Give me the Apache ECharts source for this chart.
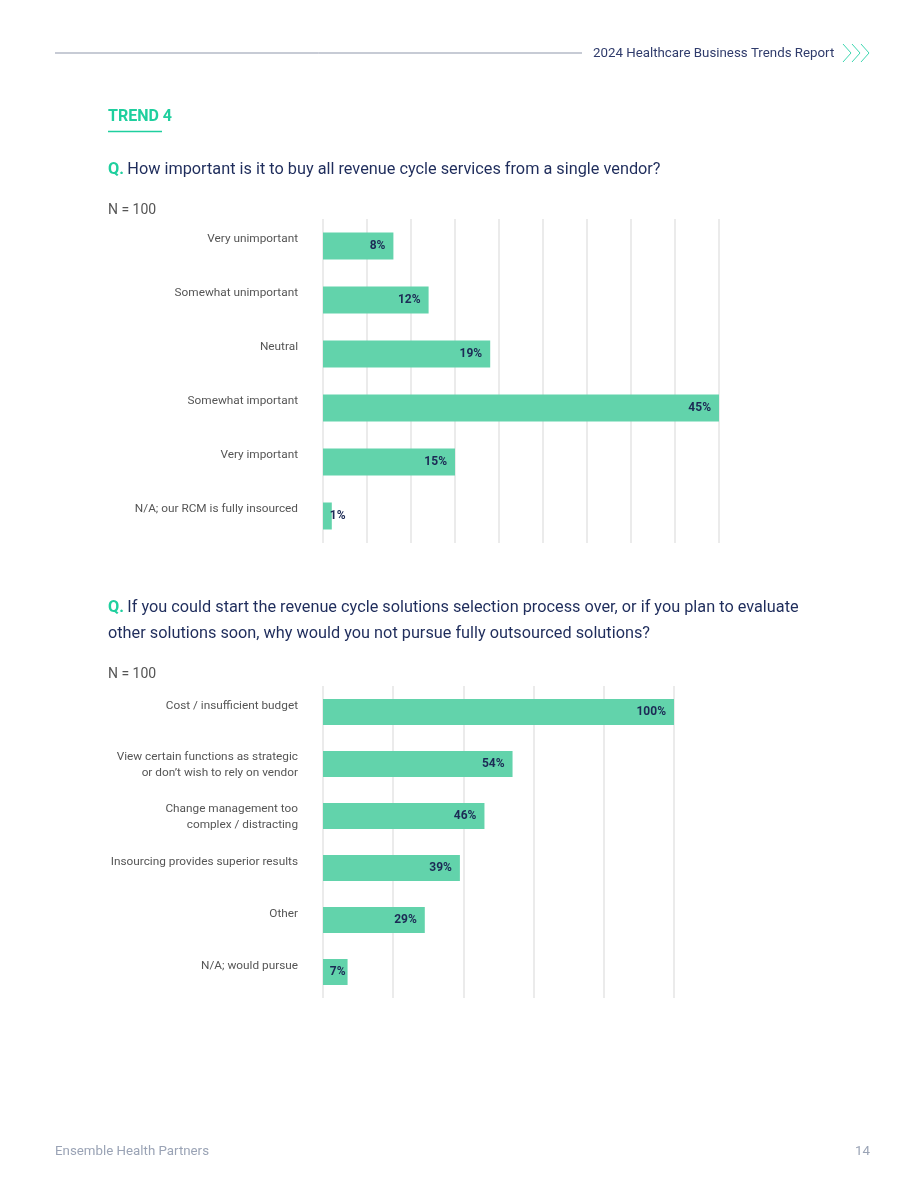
<!DOCTYPE html>
<html>
<head>
<meta charset="utf-8">
<script src="https://cdn.jsdelivr.net/npm/echarts@6/dist/echarts.min.js"></script>
<style>
  html, body { margin: 0; padding: 0; background: #fff; }
  #main { width: 920px; height: 1191px; }
</style>
</head>
<body>
<div id="main"></div>
<script>
// chart 1: importance of single vendor
const cats1 = ['Very unimportant', 'Somewhat unimportant', 'Neutral', 'Somewhat important', 'Very important', 'N/A; our RCM is fully insourced']
const vals1 = [8, 12, 19, 45, 15, 1]
const max1 = 45
const step1 = 5

// chart 2: reasons not to outsource
const cats2 = ['Cost / insufficient budget', 'View certain functions as strategic\nor don\u2019t wish to rely on vendor', 'Change management too\ncomplex / distracting', 'Insourcing provides superior results', 'Other', 'N/A; would pursue']
const vals2 = [100, 54, 46, 39, 29, 7]
const max2 = 100
const step2 = 20

const teal = '#1fcf9e'
const navy = '#1f2d5c'
const barColor = '#62d3ab'
const font = 'Roboto'

const myChart = echarts.init(document.getElementById('main'))

const catLabel = (pad) => ({
  margin: 25,
  fontFamily: font,
  fontSize: 11.8,
  color: '#555',
  align: 'right',
  formatter: v => v.includes('\n')
    ? v.split('\n').map(l => '{m|' + l + '}').join('\n')
    : '{s|' + v + '}',
  rich: {
    s: { fontFamily: font, fontSize: 11.8, color: '#555', padding: [0, 0, pad, 0] },
    m: { fontFamily: font, fontSize: 11.8, color: '#555', lineHeight: 16, padding: [2, 0, 0, 0] }
  }
})

const valueLabel = {
  show: true,
  position: 'insideRight',
  distance: 8,
  formatter: '{c}%',
  fontFamily: font,
  fontWeight: 'bold',
  fontSize: 12,
  color: '#1c2a55'
}

const option = {
  animation: false,
  grid: [
    { left: 323, width: 396, top: 219, height: 324 },
    { left: 323, width: 351, top: 686, height: 312 }
  ],
  xAxis: [
    {
      gridIndex: 0, type: 'value', min: 0, max: max1, interval: step1,
      axisLabel: { show: false }, axisLine: { show: false }, axisTick: { show: false },
      splitLine: { lineStyle: { color: '#e4e4e4', width: 1.5 } }
    },
    {
      gridIndex: 1, type: 'value', min: 0, max: max2, interval: step2,
      axisLabel: { show: false }, axisLine: { show: false }, axisTick: { show: false },
      splitLine: { lineStyle: { color: '#e4e4e4', width: 1.5 } }
    }
  ],
  yAxis: [
    {
      gridIndex: 0, type: 'category', data: cats1, inverse: true,
      axisLine: { show: false }, axisTick: { show: false },
      axisLabel: catLabel(13)
    },
    {
      gridIndex: 1, type: 'category', data: cats2, inverse: true,
      axisLine: { show: false }, axisTick: { show: false },
      axisLabel: catLabel(11)
    }
  ],
  series: [
    {
      type: 'bar', xAxisIndex: 0, yAxisIndex: 0,
      barWidth: '50%',
      itemStyle: { color: barColor },
      label: valueLabel,
      data: vals1.map(v => v < 3 ? { value: v, label: { position: 'right', distance: -2 } } : v)
    },
    {
      type: 'bar', xAxisIndex: 1, yAxisIndex: 1,
      barWidth: '50%',
      itemStyle: { color: barColor },
      label: valueLabel,
      data: vals2.map(v => v < 10 ? { value: v, label: { distance: 2 } } : v)
    }
  ],
  graphic: [
    // header
    { type: 'line', shape: { x1: 55, y1: 53, x2: 582, y2: 53 }, style: { stroke: '#8f97ab', lineWidth: 1 } },
    { type: 'text', x: 593, y: 54, style: { text: '2024 Healthcare Business Trends Report', font: '13.3px Roboto', fill: '#2f3b6b', verticalAlign: 'middle' } },
    { type: 'polyline', shape: { points: [[843, 44], [851, 53], [843, 62]] }, style: { stroke: '#3dd6b0', lineWidth: 1, fill: null } },
    { type: 'polyline', shape: { points: [[852, 44], [860, 53], [852, 62]] }, style: { stroke: '#3dd6b0', lineWidth: 1, fill: null } },
    { type: 'polyline', shape: { points: [[861, 44], [869, 53], [861, 62]] }, style: { stroke: '#3dd6b0', lineWidth: 1, fill: null } },
    // trend heading
    { type: 'text', x: 108, y: 117, style: { text: 'TREND 4', font: 'bold 16px Roboto', fill: teal, verticalAlign: 'middle' } },
    { type: 'line', shape: { x1: 108, y1: 131.5, x2: 162, y2: 131.5 }, style: { stroke: teal, lineWidth: 1.5 } },
    // question 1
    {
      type: 'text', x: 108, y: 170,
      style: {
        text: '{q|Q.} {t|How important is it to buy all revenue cycle services from a single vendor?}',
        verticalAlign: 'middle',
        rich: {
          q: { fontFamily: font, fontSize: 16.3, fontWeight: 'bold', fill: teal },
          t: { fontFamily: font, fontSize: 16.3, fill: navy }
        }
      }
    },
    { type: 'text', x: 108, y: 210, style: { text: 'N = 100', font: '14px Roboto', fill: '#555', verticalAlign: 'middle' } },
    // question 2
    {
      type: 'text', x: 108, y: 621,
      style: {
        text: '{q|Q.} {t|If you could start the revenue cycle solutions selection process over, or if you plan to evaluate}\n{t|other solutions soon, why would you not pursue fully outsourced solutions?}',
        verticalAlign: 'middle',
        rich: {
          q: { fontFamily: font, fontSize: 16.3, fontWeight: 'bold', fill: teal, lineHeight: 26 },
          t: { fontFamily: font, fontSize: 16.3, fill: navy, lineHeight: 26 }
        }
      }
    },
    { type: 'text', x: 108, y: 674, style: { text: 'N = 100', font: '14px Roboto', fill: '#555', verticalAlign: 'middle' } },
    // footer
    { type: 'text', x: 55, y: 1152, style: { text: 'Ensemble Health Partners', font: '13.3px Roboto', fill: '#9aa3b5', verticalAlign: 'middle' } },
    { type: 'text', x: 870, y: 1152, style: { text: '14', font: '13.3px Roboto', fill: '#9aa3b5', align: 'right', verticalAlign: 'middle' } }
  ]
}

option && myChart.setOption(option)

window.addEventListener('resize', function () {
  myChart.resize()
})
</script>
</body>
</html>
